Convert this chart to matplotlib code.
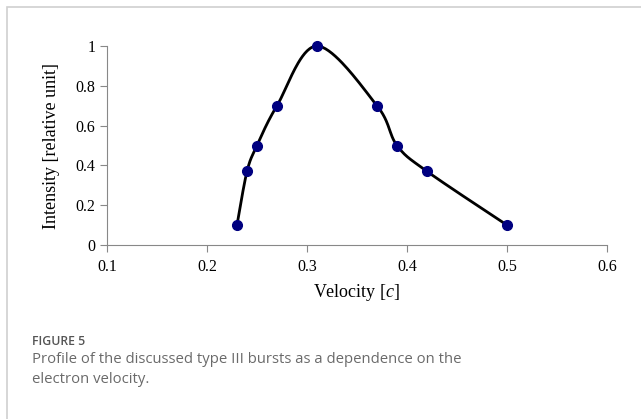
import numpy as np
import matplotlib
matplotlib.use("Agg")
import matplotlib.pyplot as plt
from matplotlib.patches import Rectangle

velocity = [0.23, 0.24, 0.25, 0.27, 0.31, 0.37, 0.39, 0.42, 0.50]
intensity = [0.10, 0.37, 0.50, 0.70, 1.00, 0.70, 0.50, 0.37, 0.10]
x_ticks = [0.1, 0.2, 0.3, 0.4, 0.5, 0.6]
y_ticks = [0, 0.2, 0.4, 0.6, 0.8, 1]
y_tick_labels = ["0", "0.2", "0.4", "0.6", "0.8", "1"]
caption_head = "FIGURE 5"
caption_body = "Profile of the discussed type III bursts as a dependence on the\nelectron velocity."

plt.rcParams["mathtext.fontset"] = "custom"
plt.rcParams["mathtext.it"] = "Liberation Serif:italic"
plt.rcParams["mathtext.rm"] = "Liberation Serif"


def smooth(ax, xs, ys, n=40):
    # excel-like smoothed line: bezier with control points at 1/6 of the neighbour chord,
    # worked out in screen pixels and mapped back to data
    pts = ax.transData.transform(np.column_stack([xs, ys]))
    p = np.vstack([pts[0], pts, pts[-1]])
    t = np.linspace(0, 1, n)[:, None]
    out = []
    for i in range(1, len(p) - 2):
        p0, p1, p2, p3 = p[i - 1], p[i], p[i + 1], p[i + 2]
        c1 = p1 + (p2 - p0) / 6
        c2 = p2 - (p3 - p1) / 6
        b = (1 - t)**3 * p1 + 3 * (1 - t)**2 * t * c1 + 3 * (1 - t) * t**2 * c2 + t**3 * p2
        out.append(b)
    out = ax.transData.inverted().transform(np.vstack(out))
    return out[:, 0], out[:, 1]


fig = plt.figure(figsize=(6.41, 4.19), dpi=100)
fig.patches.append(Rectangle((7 / 641, -0.1), 1.2, (419 - 7) / 419 + 0.1,
                             transform=fig.transFigure, fill=False,
                             edgecolor="#d0d0d0", linewidth=1.2))

ax = fig.add_axes([107 / 641, 174 / 419, 500 / 641, 199 / 419])
ax.set_xlim(0.1, 0.6)
ax.set_ylim(0, 1)
sx, sy = smooth(ax, velocity, intensity)
ax.plot(sx, sy, color="black", linewidth=2, clip_on=False)
ax.plot(velocity, intensity, "o", color="#000080", markersize=7, clip_on=False, zorder=3)

ax.set_xticks(x_ticks)
ax.set_yticks(y_ticks)
ax.set_yticklabels(y_tick_labels)
for s in ["top", "right"]:
    ax.spines[s].set_visible(False)
for s in ["left", "bottom"]:
    ax.spines[s].set_color("#888888")
ax.tick_params(colors="#888888", labelcolor="black", length=5, labelsize=11.5)
ax.tick_params(axis="x", pad=5)
for lab in ax.get_xticklabels() + ax.get_yticklabels():
    lab.set_fontfamily("Liberation Serif")
ax.set_xlabel("Velocity [$c$]", fontfamily="Liberation Serif", fontsize=13, labelpad=5)
ax.set_ylabel("Intensity [relative unit]", fontfamily="Liberation Serif", fontsize=13, labelpad=11)

fig.text(32 / 641, 1 - 341 / 419, caption_head, fontfamily="Open Sans", fontsize=8.8,
         fontweight="semibold", color="#555555", va="center")
fig.text(32 / 641, 1 - 352 / 419, caption_body, fontfamily="Open Sans", fontsize=10.7,
         color="#6a6a6a", va="top", linespacing=1.45)

fig.savefig("out.png", dpi=100)
